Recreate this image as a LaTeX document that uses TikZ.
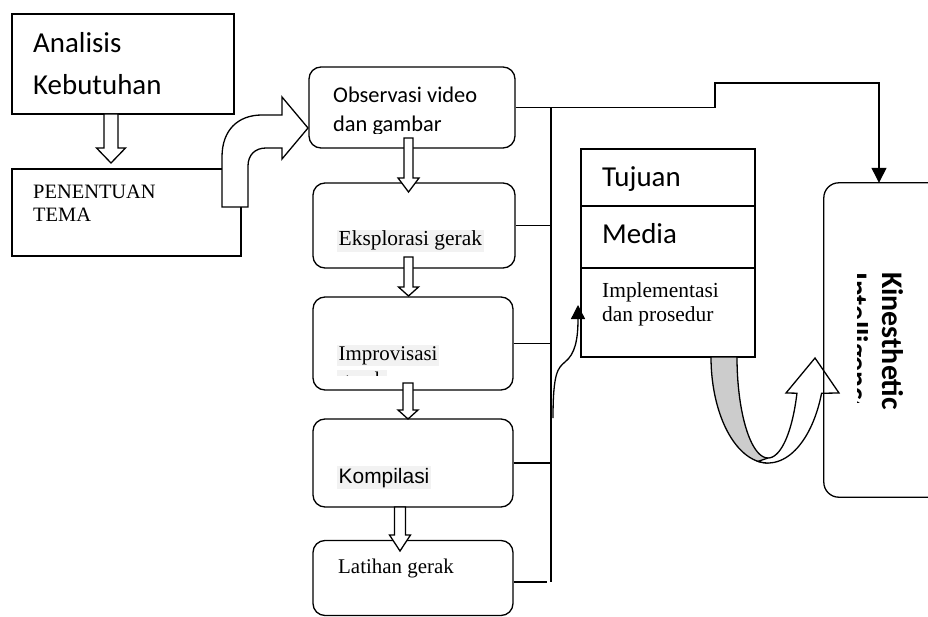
\documentclass[tikz,border=0pt]{standalone}
\usepackage{fontspec}
\setmainfont{Liberation Serif}
\newfontfamily\carl{Carlito}
\newfontfamily\arialf{Liberation Sans}
\usetikzlibrary{arrows.meta,calc}
\definecolor{bgray}{HTML}{F2F2F2}
\definecolor{ugray}{HTML}{CCCCCC}
\tikzset{
 lw/.style={line width=1.3bp},
 sqbox/.style={draw, lw, fill=white, inner sep=0pt},
 rbox/.style={sqbox, rounded corners=12bp},
 hollow/.style={draw, lw, fill=white, line join=miter},
 txt/.style={inner sep=0pt, anchor=base west},
 hl/.style={fill=bgray, inner xsep=1.5bp, inner ysep=1.5bp, anchor=base west},
 conn/.style={lw},
 tip/.style={-{Triangle[length=14bp,width=14bp]}},
}
% #1 centre x, #2 top y, #3 shaft half width, #4 head base y, #5 head half width, #6 tip y
\newcommand\hdarrow[6]{\draw[hollow] (#1-#3,#2) -- (#1-#3,#4) -- (#1-#5,#4) -- (#1,#6) -- (#1+#5,#4) -- (#1+#3,#4) -- (#1+#3,#2) -- cycle;}
\begin{document}
\begin{tikzpicture}[x=1bp,y=-1bp]
\useasboundingbox (0,0) rectangle (928,617);
\fill[white] (0,0) rectangle (928,617);

% boxes
\node[sqbox, minimum width=222bp, minimum height=100bp] (ana) at (123,64) {};
\node[sqbox, minimum width=229bp, minimum height=87bp] (pen) at (126.5,212.5) {};
\node[rbox, minimum width=206bp, minimum height=81bp] (obs) at (412,107.5) {};
\node[rbox, minimum width=202bp, minimum height=85bp] (eks) at (414,225.5) {};
\node[rbox, minimum width=200bp, minimum height=93bp] (imp) at (413,343.5) {};
\node[rbox, minimum width=200bp, minimum height=88bp] (kom) at (413,463) {};
\node[rbox, minimum width=200bp, minimum height=75bp] (lat) at (413,578) {};
\node[sqbox, minimum width=174bp, minimum height=57bp] (tuj) at (668,177.5) {};
\node[sqbox, minimum width=174bp, minimum height=62bp] (med) at (668,237) {};
\node[sqbox, minimum width=174bp, minimum height=89bp] (ipl) at (668,312.5) {};
% Kinesthetic box: its right side lies beyond the picture's edge
\node[inner sep=0pt, minimum width=110bp, minimum height=314bp] (kin) at (879,340) {};

% bus and connectors
\coordinate (bt) at (551,107.5);
\coordinate (bb) at (551,582);
\coordinate (le) at (547,582);
\coordinate (k1) at (715,83);
\draw[conn] (bt) -- (bb);
\draw[conn] (obs.east) -- (bt);
\draw[conn, -{Triangle[length=15bp,width=15bp]}] (bt) -- (k1 |- bt) -- (k1) -| (kin.north);
\draw[conn] (eks.east) -- (eks.east -| bt);
\draw[conn] (imp.east) -- (imp.east -| bt);
\draw[conn] (kom.east) -- (kom.east -| bt);
\draw[conn] (lat.east |- le) -- (le);

% thin curved arrow into the Implementasi box
\coordinate (cs) at (553,418);
\coordinate (ce) at (578,305);
\draw[conn, tip] (cs) .. controls (553,372) and (558,368) .. (565,362) .. controls (575,354) and (578,340) .. (ce);

% hollow down arrows
\hdarrow{111}{114}{7}{148}{14.5}{163}
\hdarrow{408.5}{138}{4.5}{178}{10.5}{192}
\hdarrow{408.5}{257}{4.5}{287}{10}{296}
\hdarrow{408}{383}{5}{410}{10}{419}
\hdarrow{400}{507}{5.5}{535}{10.5}{551}

% bent arrow PENENTUAN -> Observasi
\draw[hollow] (222,207) -- (222,157) .. controls (222,130) and (238,115) .. (262,115) -- (282,115) -- (282,97) -- (308,128) -- (282,159) -- (282,148) -- (266,148) .. controls (255,148) and (248,155) .. (248,166) -- (248,207) -- cycle;

% U-turn arrow
\filldraw[lw, fill=ugray] plot[smooth, domain=180:90, samples=30] ({768+57*cos(\x)},{357+106*sin(\x)}) -- plot[smooth, domain=90:180, samples=30] ({768+31*cos(\x)},{357+101*sin(\x)}) -- cycle;
\filldraw[lw, fill=white, line join=miter] plot[smooth, domain=100:20, samples=30] ({768+57*cos(\x)},{357+106*sin(\x)}) -- (839,393) -- (815,358) -- (786,393) -- plot[smooth, domain=21:90, samples=30] ({768+31*cos(\x)},{357+101*sin(\x)}) -- cycle;

% outline of the Kinesthetic box
\draw[lw, rounded corners=15bp] (kin.north -| 928,0) -- (kin.north west) -- (kin.south west) -- (kin.south -| 928,0);

% texts
\node[txt, font=\carl\fontsize{29}{35}\selectfont] (t1) at (33,53) {Analisis};
\node[txt, font=\carl\fontsize{29}{35}\selectfont] (t2) at (33,95) {Kebutuhan};
\node[txt, font=\fontsize{20.5}{23}\selectfont] (t3) at (33,199) {PENENTUAN};
\node[txt, font=\fontsize{20.5}{23}\selectfont] (t4) at (33,222) {TEMA};
\node[txt, font=\carl\fontsize{22.5}{25}\selectfont] (t5) at (333,103) {Observasi video};
\begin{scope}
\clip (320,110) rectangle (510,133.5);
\node[txt, font=\carl\fontsize{22.5}{25}\selectfont] (t6) at (333,132) {dan gambar};
\end{scope}
\node[hl, font=\fontsize{21.5}{24}\selectfont] (t7) at (337,246) {Eksplorasi gerak};
\node[hl, font=\fontsize{21}{24}\selectfont] (t8) at (337,360) {Improvisasi};
\begin{scope}
\clip (330,366.5) rectangle (450,375.5);
\node[hl, font=\fontsize{21}{24}\selectfont] (t9) at (337,386) {gerak};
\end{scope}
\node[hl, font=\arialf\fontsize{21}{25}\selectfont] (t10) at (337,483) {Kompilasi};
\node[txt, font=\fontsize{21}{25}\selectfont] (t11) at (338,573) {Latihan gerak};
\node[txt, font=\carl\fontsize{29}{32}\selectfont] (t12) at (602,187) {Tujuan};
\node[txt, font=\carl\fontsize{29}{32}\selectfont] (t13) at (602,244) {Media};
\node[txt, font=\fontsize{21.5}{24}\selectfont] (t14) at (602,297) {Implementasi};
\node[txt, font=\fontsize{21.5}{24}\selectfont] (t15) at (602,321) {dan prosedur};
\node[txt, rotate=-90, font=\carl\bfseries\fontsize{30}{34}\selectfont] (t16) at (882,272) {Kinesthetic};
\begin{scope}
\clip (857,265) rectangle (875,402);
\node[txt, rotate=-90, font=\carl\bfseries\fontsize{30}{34}\selectfont] (t17) at (847,272) {Intelligence};
\end{scope}
\end{tikzpicture}
\end{document}
